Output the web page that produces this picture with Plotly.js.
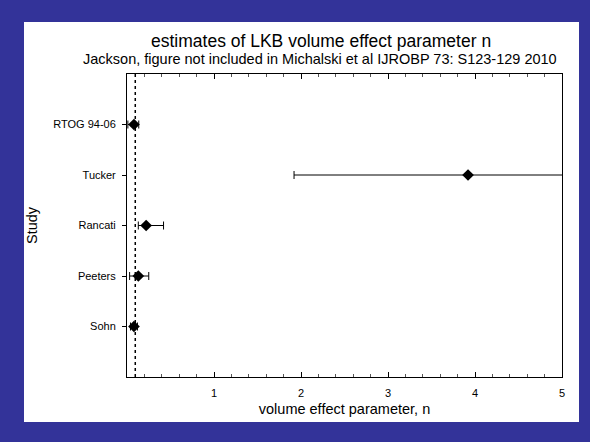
<!DOCTYPE html>
<html>
<head>
<meta charset="utf-8">
<script src="https://cdn.plot.ly/plotly-3.0.1.min.js"></script>
<style>
html, body { margin:0; padding:0; background:#333399; width:590px; height:442px; overflow:hidden; }
#chart { position:absolute; left:24px; top:22px; width:555px; height:400px; background:#ffffff; }
</style>
</head>
<body>
<div id="chart"></div>
<script>
// Data
const studies = ['Sohn', 'Peeters', 'Rancati', 'Tucker', 'RTOG 94-06'];
const positions = [1, 2, 3, 4, 5];
const nEstimate = [0.08, 0.13, 0.22, 3.92, 0.08];
const ciLower = [0.04, 0.03, 0.13, 1.92, 0.01];
const ciUpper = [0.12, 0.25, 0.42, 6.2, 0.135];
const pooledN = 0.095;
const xTicks = [1, 2, 3, 4, 5];

const trace = {
  type: 'scatter',
  mode: 'markers',
  x: nEstimate,
  y: positions,
  marker: { symbol: 'diamond', size: 9, color: '#000000' },
  error_x: {
    type: 'data',
    symmetric: false,
    array: nEstimate.map((v, i) => ciUpper[i] - v),
    arrayminus: nEstimate.map((v, i) => v - ciLower[i]),
    color: '#000000',
    thickness: 1,
    width: 4
  },
  cliponaxis: true,
  showlegend: false,
  hoverinfo: 'x+text',
  text: studies
};

const font = 'Liberation Sans, Arial, sans-serif';

const layout = {
  width: 555,
  height: 400,
  paper_bgcolor: '#ffffff',
  plot_bgcolor: '#ffffff',
  margin: { l: 103, r: 17, t: 52, b: 45 },
  font: { family: font, color: '#000000', size: 11 },
  showlegend: false,
  xaxis: {
    range: [0, 5],
    tickmode: 'array',
    tickvals: xTicks,
    ticktext: xTicks.map(String),
    ticks: 'inside',
    ticklen: 5,
    tickwidth: 1,
    tickcolor: '#000000',
    showline: true,
    linecolor: '#000000',
    linewidth: 1,
    mirror: 'ticks',
    showgrid: false,
    zeroline: false,
    ticklabelstandoff: 6,
    tickfont: { size: 11, family: font },
    minor: { tickmode: 'linear', tick0: 0, dtick: 0.2, ticks: 'inside', ticklen: 3, tickcolor: '#555555', showgrid: false },
    title: { text: 'volume effect parameter, n', font: { size: 14.5, family: font }, standoff: 5 }
  },
  yaxis: {
    range: [0, 6],
    tickmode: 'array',
    tickvals: positions,
    ticktext: studies,
    ticks: 'outside',
    ticklen: 4,
    tickcolor: '#000000',
    showline: true,
    linecolor: '#000000',
    linewidth: 1,
    mirror: true,
    showgrid: false,
    zeroline: false,
    ticklabelstandoff: 4,
    tickfont: { size: 11, family: font },
    title: { text: 'Study', font: { size: 14.5, family: font }, standoff: 14 }
  },
  shapes: [{
    type: 'line', xref: 'x', yref: 'paper',
    x0: pooledN, x1: pooledN, y0: 0, y1: 1,
    line: { color: '#000000', width: 1.5, dash: 'dot' }
  }],
  annotations: [
    { text: 'estimates of LKB volume effect parameter n', xref: 'paper', yref: 'paper',
      x: (321 - 127) / 435, y: 1 + (75 - 42) / 303, xanchor: 'center', yanchor: 'middle', showarrow: false,
      font: { size: 17.5, family: font } },
    { text: 'Jackson, figure not included in Michalski et al IJROBP 73: S123-129 2010', xref: 'paper', yref: 'paper',
      x: (320 - 127) / 435, y: 1 + (75 - 60) / 303, xanchor: 'center', yanchor: 'middle', showarrow: false,
      font: { size: 14.5, family: font } }
  ]
};

Plotly.newPlot('chart', [trace], layout, { displayModeBar: false, staticPlot: true });
</script>
</body>
</html>
